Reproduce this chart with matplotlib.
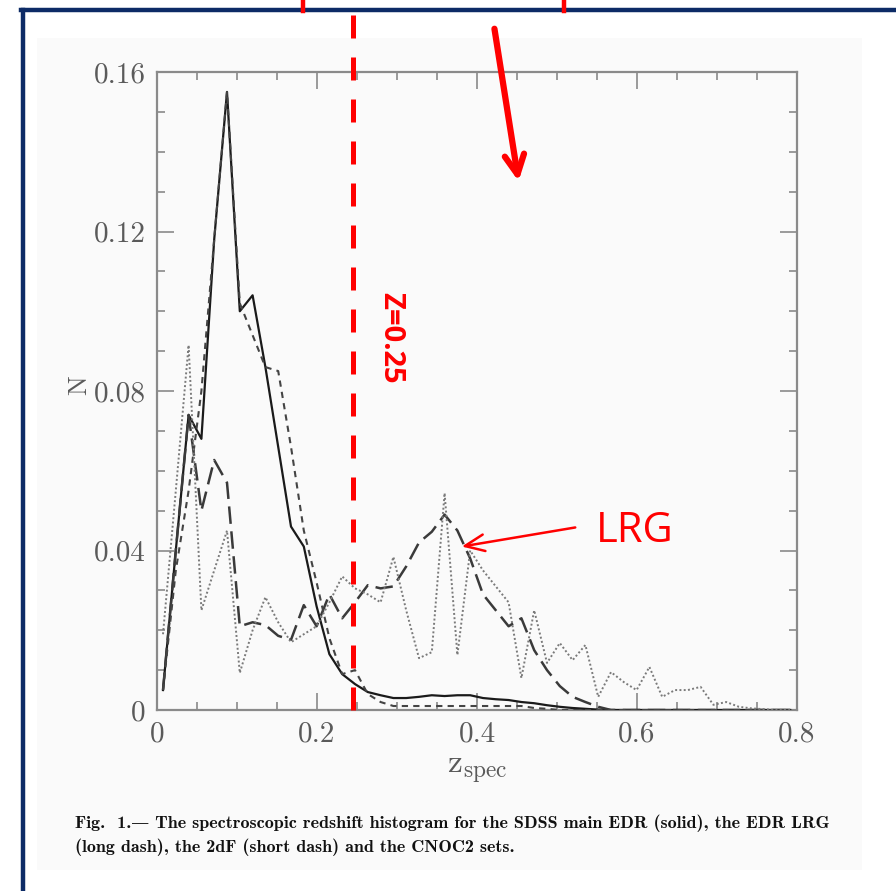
# coding=utf-8
# Redshift histogram (SDSS main / LRG / 2dF / CNOC2) with red slide annotations.

import numpy as np
import matplotlib
matplotlib.use("Agg")
import matplotlib.pyplot as plt
from matplotlib.lines import Line2D
from matplotlib.patches import Rectangle, FancyArrowPatch

plt.rcParams["mathtext.fontset"] = "cm"

# ---- data ----
z_bins = [0.0075, 0.0235, 0.0395, 0.0555, 0.0715, 0.0875, 0.1035, 0.1195, 0.1355, 0.1515,
          0.1675, 0.1835, 0.1995, 0.2155, 0.2315, 0.2475, 0.2635, 0.2795, 0.2955, 0.3115,
          0.3275, 0.3435, 0.3595, 0.3755, 0.3915, 0.4075, 0.4235, 0.4395, 0.4555, 0.4715,
          0.4875, 0.5035, 0.5195, 0.5355, 0.5515, 0.5675, 0.5835, 0.5995, 0.6155, 0.6315,
          0.6475, 0.6635, 0.6795, 0.6955, 0.7115, 0.7275, 0.7435, 0.7595, 0.7755, 0.7915]

sdss_main = [0.005, 0.040, 0.074, 0.068, 0.118, 0.155, 0.100, 0.104, 0.086, 0.066,
             0.046, 0.041, 0.026, 0.014, 0.009, 0.0065, 0.0045, 0.0037, 0.003, 0.003,
             0.0033, 0.0037, 0.0035, 0.0037, 0.0037, 0.003, 0.0027, 0.0025, 0.002, 0.0017,
             0.0012, 0.0008, 0.0005, 0.0003, 0.0001, 0, 0, 0, 0, 0,
             0, 0, 0, 0, 0, 0, 0, 0, 0, 0]

edr_lrg = [0.005, 0.040, 0.074, 0.050, 0.0627, 0.057, 0.021, 0.022, 0.0213, 0.0186,
           0.0176, 0.0263, 0.021, 0.029, 0.023, 0.027, 0.0313, 0.0305, 0.031, 0.036,
           0.042, 0.0447, 0.049, 0.045, 0.038, 0.029, 0.025, 0.021, 0.023, 0.015,
           0.010, 0.006, 0.0033, 0.002, 0.0008, 0, 0, 0, 0, 0,
           0, 0, 0, 0, 0, 0, 0, 0, 0, 0]

twodf = [0.005, 0.035, 0.055, 0.080, 0.118, 0.155, 0.102, 0.094, 0.086, 0.085,
         0.066, 0.045, 0.032, 0.018, 0.009, 0.010, 0.004, 0.002, 0.001, 0.001,
         0.001, 0.001, 0.001, 0.001, 0.001, 0.001, 0.001, 0.001, 0.001, 0.0005,
         0.0003, 0, 0, 0, 0, 0, 0, 0, 0, 0,
         0, 0, 0, 0, 0, 0, 0, 0, 0, 0]

cnoc2 = [0.019, 0.055, 0.0915, 0.025, 0.035, 0.045, 0.0093, 0.020, 0.0283, 0.022,
         0.017, 0.019, 0.021, 0.027, 0.0335, 0.0305, 0.029, 0.027, 0.0384, 0.025,
         0.013, 0.0145, 0.0544, 0.0138, 0.040, 0.035, 0.031, 0.027, 0.008, 0.025,
         0.0118, 0.0168, 0.0125, 0.0163, 0.0033, 0.0095, 0.007, 0.005, 0.0108, 0.0033,
         0.005, 0.005, 0.0058, 0.0013, 0.002, 0.0008, 0.0004, 0.0002, 0, 0]

x_ticks = [0, 0.2, 0.4, 0.6, 0.8]
x_tick_labels = ["0", "0.2", "0.4", "0.6", "0.8"]
y_ticks = [0, 0.04, 0.08, 0.12, 0.16]
y_tick_labels = ["0", "0.04", "0.08", "0.12", "0.16"]
z_cut = 0.245
caption = ("Fig.  1.\u2014 The spectroscopic redshift histogram for the SDSS main EDR (solid), the EDR LRG\n"
           "(long dash), the 2dF (short dash) and the CNOC2 sets.")

W, H = 896, 891
fig = plt.figure(figsize=(W / 100, H / 100), dpi=100)
fig.patch.set_facecolor("white")


def fx(px):
    return px / W


def fy(py):
    return 1 - py / H


# grey scanned panel and the navy slide frame
fig.add_artist(Rectangle((fx(37), fy(870)), fx(862) - fx(37), fy(38) - fy(870),
                         transform=fig.transFigure, facecolor="#fafafa", edgecolor="none", zorder=0))
navy = "#0d2b66"
fig.add_artist(Line2D([fx(23), fx(23)], [fy(10), 0], transform=fig.transFigure, color=navy, lw=3.2))
fig.add_artist(Line2D([fx(21), 1], [fy(10), fy(10)], transform=fig.transFigure, color=navy, lw=3.2))
# bits of a red box above the frame
for px in (303, 564):
    fig.add_artist(Line2D([fx(px), fx(px)], [1, fy(11)], transform=fig.transFigure, color="red", lw=3.2))

ax = fig.add_axes([157 / W, 1 - 710 / H, 640 / W, 638 / H])
ax.set_facecolor("none")

ax.plot(z_bins, sdss_main, color="#1a1a1a", lw=1.6, zorder=3)
ax.plot(z_bins, edr_lrg, color="#3a3a3a", lw=1.8, dashes=(7, 3), zorder=3)
ax.plot(z_bins, twodf, color="#444444", lw=1.5, dashes=(3, 2.5), zorder=3)
ax.plot(z_bins, cnoc2, color="#7a7a7a", lw=1.4, dashes=(1, 1.2), zorder=3)

ax.set_xlim(0, 0.8)
ax.set_ylim(0, 0.16)

grey = "#5a5a5a"
for s in ax.spines.values():
    s.set_color("#8a8a8a")
    s.set_linewidth(1.6)
ax.set_xticks(x_ticks)
ax.set_xticks(np.arange(0, 0.801, 0.05), minor=True)
ax.set_yticks(y_ticks)
ax.set_yticks(np.arange(0, 0.1601, 0.01), minor=True)
ax.set_xticklabels(x_tick_labels, family="cmr10", fontsize=21, color=grey)
ax.set_yticklabels(y_tick_labels, family="cmr10", fontsize=21, color=grey)
ax.tick_params(which="both", direction="in", top=True, right=True, color="#8a8a8a", width=1.2)
ax.tick_params(which="major", length=12, pad=8)
ax.tick_params(which="minor", length=6)

ax.set_xlabel(r"$\mathrm{z}_{\mathrm{spec}}$", fontsize=24, color=grey, labelpad=4)
fig.text(fx(79), fy(385), "N", family="cmr10", fontsize=19, color=grey,
         rotation=90, ha="center", va="center")

fig.text(fx(75), fy(835), caption, family=["cmb10", "DejaVu Serif"], fontsize=13, color="#111111",
         ha="left", va="center", linespacing=1.45)

# red annotations
ax.plot([z_cut, z_cut], [0, 0.1743], color="red", lw=3.6, dashes=(4.6, 3.8), clip_on=False, zorder=4)
fig.text(fx(391), fy(338), "Z=0.25", color="red", fontsize=21, fontweight="bold",
         family="Open Sans", rotation=-90, ha="center", va="center")
fig.add_artist(FancyArrowPatch(
    (fx(494), fy(26)), (fx(519), fy(184)), transform=fig.transFigure,
    arrowstyle="->,head_length=14,head_width=7", color="red", lw=4.5, mutation_scale=1))
fig.add_artist(FancyArrowPatch(
    (fx(578), fy(527)), (fx(459), fy(547)), transform=fig.transFigure,
    arrowstyle="->,head_length=14,head_width=6", color="red", lw=1.8, mutation_scale=1))
fig.text(fx(635), fy(531), "LRG", color="red", fontsize=30, family="Open Sans",
         ha="center", va="center")

fig.savefig("out.png", dpi=100, facecolor="white")
